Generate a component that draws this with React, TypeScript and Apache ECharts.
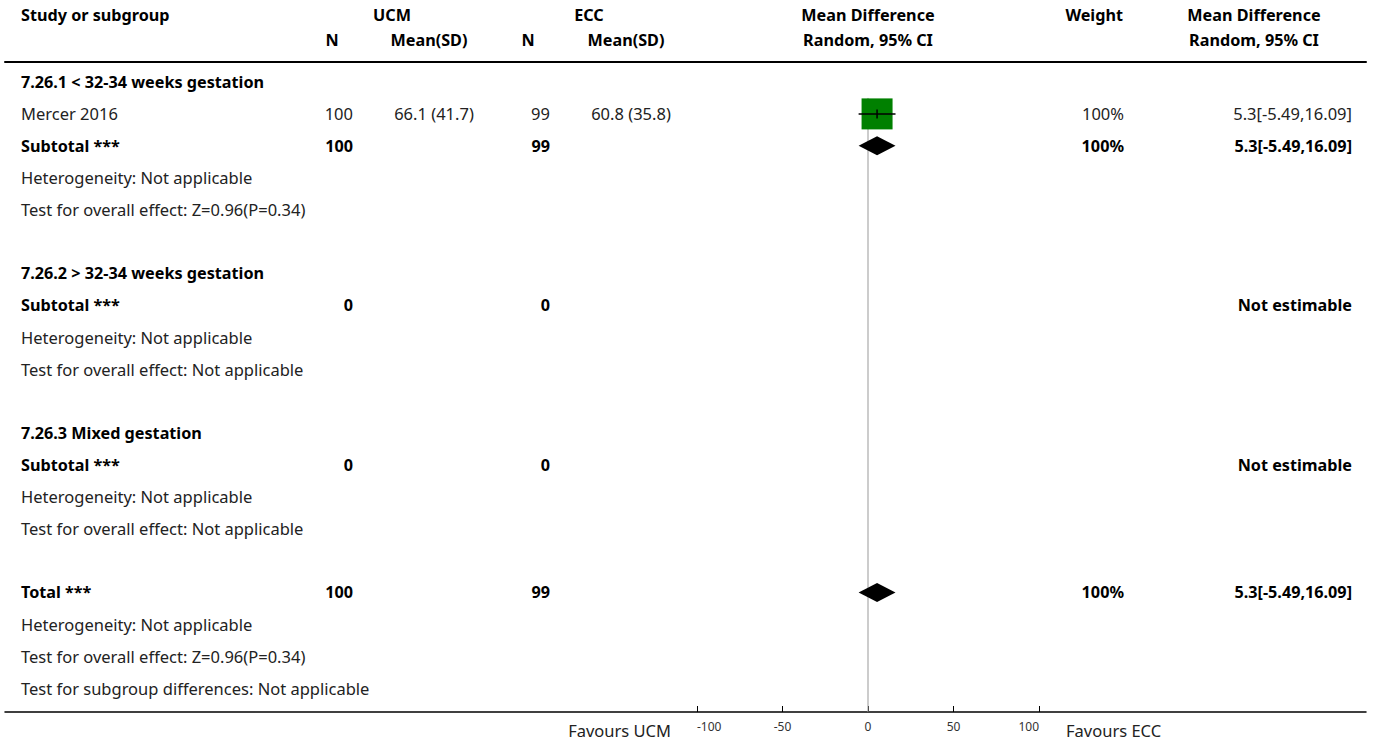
import React, { useEffect, useRef } from "react";
import * as echarts from "echarts";

// ---------- data ----------
const rowLabels = [
  "7.26.1 < 32-34 weeks gestation",
  "Mercer 2016",
  "Subtotal ***",
  "Heterogeneity: Not applicable",
  "Test for overall effect: Z=0.96(P=0.34)",
  "",
  "7.26.2 > 32-34 weeks gestation",
  "Subtotal ***",
  "Heterogeneity: Not applicable",
  "Test for overall effect: Not applicable",
  "",
  "7.26.3 Mixed gestation",
  "Subtotal ***",
  "Heterogeneity: Not applicable",
  "Test for overall effect: Not applicable",
  "",
  "Total ***",
  "Heterogeneity: Not applicable",
  "Test for overall effect: Z=0.96(P=0.34)",
  "Test for subgroup differences: Not applicable",
];
const boldRows = [0, 2, 6, 7, 11, 12, 16];
const ucmN = ["", "100", "100", "", "", "", "", "0", "", "", "", "", "0", "", "", "", "100", "", "", ""];
const ucmMeanSD = ["", "66.1 (41.7)", "", "", "", "", "", "", "", "", "", "", "", "", "", "", "", "", "", ""];
const eccN = ["", "99", "99", "", "", "", "", "0", "", "", "", "", "0", "", "", "", "99", "", "", ""];
const eccMeanSD = ["", "60.8 (35.8)", "", "", "", "", "", "", "", "", "", "", "", "", "", "", "", "", "", ""];
const weights = ["", "100%", "100%", "", "", "", "", "", "", "", "", "", "", "", "", "", "100%", "", "", ""];
const ciTexts = [
  "", "5.3[-5.49,16.09]", "5.3[-5.49,16.09]", "", "", "", "", "Not estimable", "", "", "", "",
  "Not estimable", "", "", "", "5.3[-5.49,16.09]", "", "", "",
];

const studyRows = [1];
const studyMD = [5.3];
const studyLo = [-5.49];
const studyHi = [16.09];

const diamondRows = [2, 16];
const diamondMD = [5.3, 5.3];
const diamondLo = [-5.49, -5.49];
const diamondHi = [16.09, 16.09];

const xMin = -100;
const xMax = 100;
const xInterval = 50;

const headerTop = ["Study or subgroup", "UCM", "ECC", "Mean Difference", "Weight", "Mean Difference"];
const headerSub = ["N", "Mean(SD)", "N", "Mean(SD)", "Random, 95% CI", "Random, 95% CI"];
const favoursLeft = "Favours UCM";
const favoursRight = "Favours ECC";

// ---------- layout ----------
const FONT = '"Noto Sans", sans-serif';
const FS = 16.5;
const HFS = 16.2;
const ROW_H = 31.9;
const GRID_TOP = 62;
const GRID_H = 650;
const ROW0_Y = 82;
const yMin = -(ROW0_Y - GRID_TOP) / ROW_H;
const yMax = yMin + GRID_H / ROW_H;

const columns = [
  { values: ucmN, x: 353, align: "right" },
  { values: ucmMeanSD, x: 434, align: "center" },
  { values: eccN, x: 550, align: "right" },
  { values: eccMeanSD, x: 631, align: "center" },
  { values: weights, x: 1124, align: "right" },
  { values: ciTexts, x: 1352, align: "right" },
];

export default function App() {
  const ref = useRef<HTMLDivElement>(null);

  useEffect(() => {
    if (!ref.current) return;
    const chart = echarts.init(ref.current, null, { renderer: "svg" });

    type Item = { x: number; row: number; text: string; bold: boolean; align: string };
    const items: Item[] = [];
    rowLabels.forEach((t, i) => {
      if (t) items.push({ x: 21, row: i, text: t, bold: boldRows.includes(i), align: "left" });
    });
    columns.forEach((c) => {
      c.values.forEach((t, i) => {
        if (t) items.push({ x: c.x, row: i, text: t, bold: boldRows.includes(i), align: c.align });
      });
    });

    const headerTexts: any[] = [
      { x: 21, y: 15, text: headerTop[0], align: "left" },
      { x: 392, y: 15, text: headerTop[1], align: "center" },
      { x: 589, y: 15, text: headerTop[2], align: "center" },
      { x: 868, y: 15, text: headerTop[3], align: "center" },
      { x: 1123, y: 15, text: headerTop[4], align: "right" },
      { x: 1254, y: 15, text: headerTop[5], align: "center" },
      { x: 332, y: 40, text: headerSub[0], align: "center" },
      { x: 429, y: 40, text: headerSub[1], align: "center" },
      { x: 528, y: 40, text: headerSub[2], align: "center" },
      { x: 626, y: 40, text: headerSub[3], align: "center" },
      { x: 868, y: 40, text: headerSub[4], align: "center" },
      { x: 1254, y: 40, text: headerSub[5], align: "center" },
    ].map((h) => ({
      type: "text",
      x: h.x,
      y: h.y,
      style: {
        text: h.text,
        fill: "#000",
        font: `bold ${HFS}px ${FONT}`,
        align: h.align,
        verticalAlign: "middle",
      },
    }));

    const option: any = {
      animation: false,
      backgroundColor: "#fff",
      grid: [
        { left: 5, width: 1361, top: GRID_TOP, height: GRID_H },
        { left: 697, width: 342, top: GRID_TOP, height: GRID_H },
      ],
      xAxis: [
        {
          gridIndex: 0, type: "value", min: 5, max: 1366, position: "bottom",
          axisLine: { show: true, onZero: false, lineStyle: { color: "#000", width: 1.5 } },
          axisTick: { show: false }, axisLabel: { show: false }, splitLine: { show: false },
        },
        {
          gridIndex: 1, type: "value", min: xMin, max: xMax, interval: xInterval, position: "bottom",
          axisLine: { show: false, onZero: false },
          axisTick: { show: true, inside: true, length: 6, lineStyle: { color: "#000", width: 1 } },
          axisLabel: {
            show: true, fontSize: 12, color: "#333", margin: 8, fontFamily: FONT,
            alignMinLabel: "left", alignMaxLabel: "right",
          },
          splitLine: { show: false },
        },
        {
          gridIndex: 0, type: "value", min: 5, max: 1366, position: "top",
          axisLine: { show: true, onZero: false, lineStyle: { color: "#000", width: 2 } },
          axisTick: { show: false }, axisLabel: { show: false }, splitLine: { show: false },
        },
      ],
      yAxis: [
        { gridIndex: 0, type: "value", inverse: true, min: yMin, max: yMax, show: false },
        { gridIndex: 1, type: "value", inverse: true, min: yMin, max: yMax, show: false },
      ],
      graphic: [
        ...headerTexts,
        {
          type: "text", x: 671, y: 730,
          style: { text: favoursLeft, fill: "#222", font: `${FS}px ${FONT}`, align: "right", verticalAlign: "middle" },
        },
        {
          type: "text", x: 1066, y: 730,
          style: { text: favoursRight, fill: "#222", font: `${FS}px ${FONT}`, align: "left", verticalAlign: "middle" },
        },
      ],
      series: [
        {
          type: "custom",
          xAxisIndex: 0,
          yAxisIndex: 0,
          data: items.map((it) => [it.x, it.row]),
          renderItem: (params: any, api: any) => {
            const it = items[params.dataIndex];
            const p = api.coord([it.x, it.row]);
            return {
              type: "text",
              x: p[0],
              y: p[1],
              style: {
                text: it.text,
                fill: it.bold ? "#000" : "#222",
                font: `${it.bold ? "bold " : ""}${it.bold ? HFS : FS}px ${FONT}`,
                align: it.align,
                verticalAlign: "middle",
              },
            };
          },
        },
        {
          type: "line",
          xAxisIndex: 1,
          yAxisIndex: 1,
          data: [[0, 0.5], [0, yMax]],
          symbol: "none",
          lineStyle: { color: "#999", width: 1 },
          z: 1,
        },
        {
          type: "custom",
          xAxisIndex: 1,
          yAxisIndex: 1,
          data: studyRows.map((r, i) => [studyMD[i], r, studyLo[i], studyHi[i]]),
          renderItem: (params: any, api: any) => {
            const c = api.coord([api.value(0), api.value(1)]);
            const lo = api.coord([api.value(2), api.value(1)]);
            const hi = api.coord([api.value(3), api.value(1)]);
            const s = 31;
            return {
              type: "group",
              children: [
                { type: "rect", shape: { x: c[0] - s / 2, y: c[1] - s / 2, width: s, height: s }, style: { fill: "#008000" } },
                { type: "line", shape: { x1: lo[0], y1: c[1], x2: hi[0], y2: c[1] }, style: { stroke: "#000", lineWidth: 1.5 } },
                { type: "line", shape: { x1: c[0], y1: c[1] - 4.5, x2: c[0], y2: c[1] + 4.5 }, style: { stroke: "#000", lineWidth: 1.5 } },
              ],
            };
          },
          z: 3,
        },
        {
          type: "custom",
          xAxisIndex: 1,
          yAxisIndex: 1,
          data: diamondRows.map((r, i) => [diamondMD[i], r, diamondLo[i], diamondHi[i]]),
          renderItem: (params: any, api: any) => {
            const c = api.coord([api.value(0), api.value(1)]);
            const lo = api.coord([api.value(2), api.value(1)]);
            const hi = api.coord([api.value(3), api.value(1)]);
            const h = 9.5;
            return {
              type: "polygon",
              shape: { points: [[lo[0], c[1]], [c[0], c[1] - h], [hi[0], c[1]], [c[0], c[1] + h]] },
              style: { fill: "#000" },
            };
          },
          z: 3,
        },
      ],
    };

    chart.setOption(option);
    return () => chart.dispose();
  }, []);

  return <div ref={ref} style={{ position: "fixed", left: 0, top: 0, width: 1373, height: 740 }} />;
}
